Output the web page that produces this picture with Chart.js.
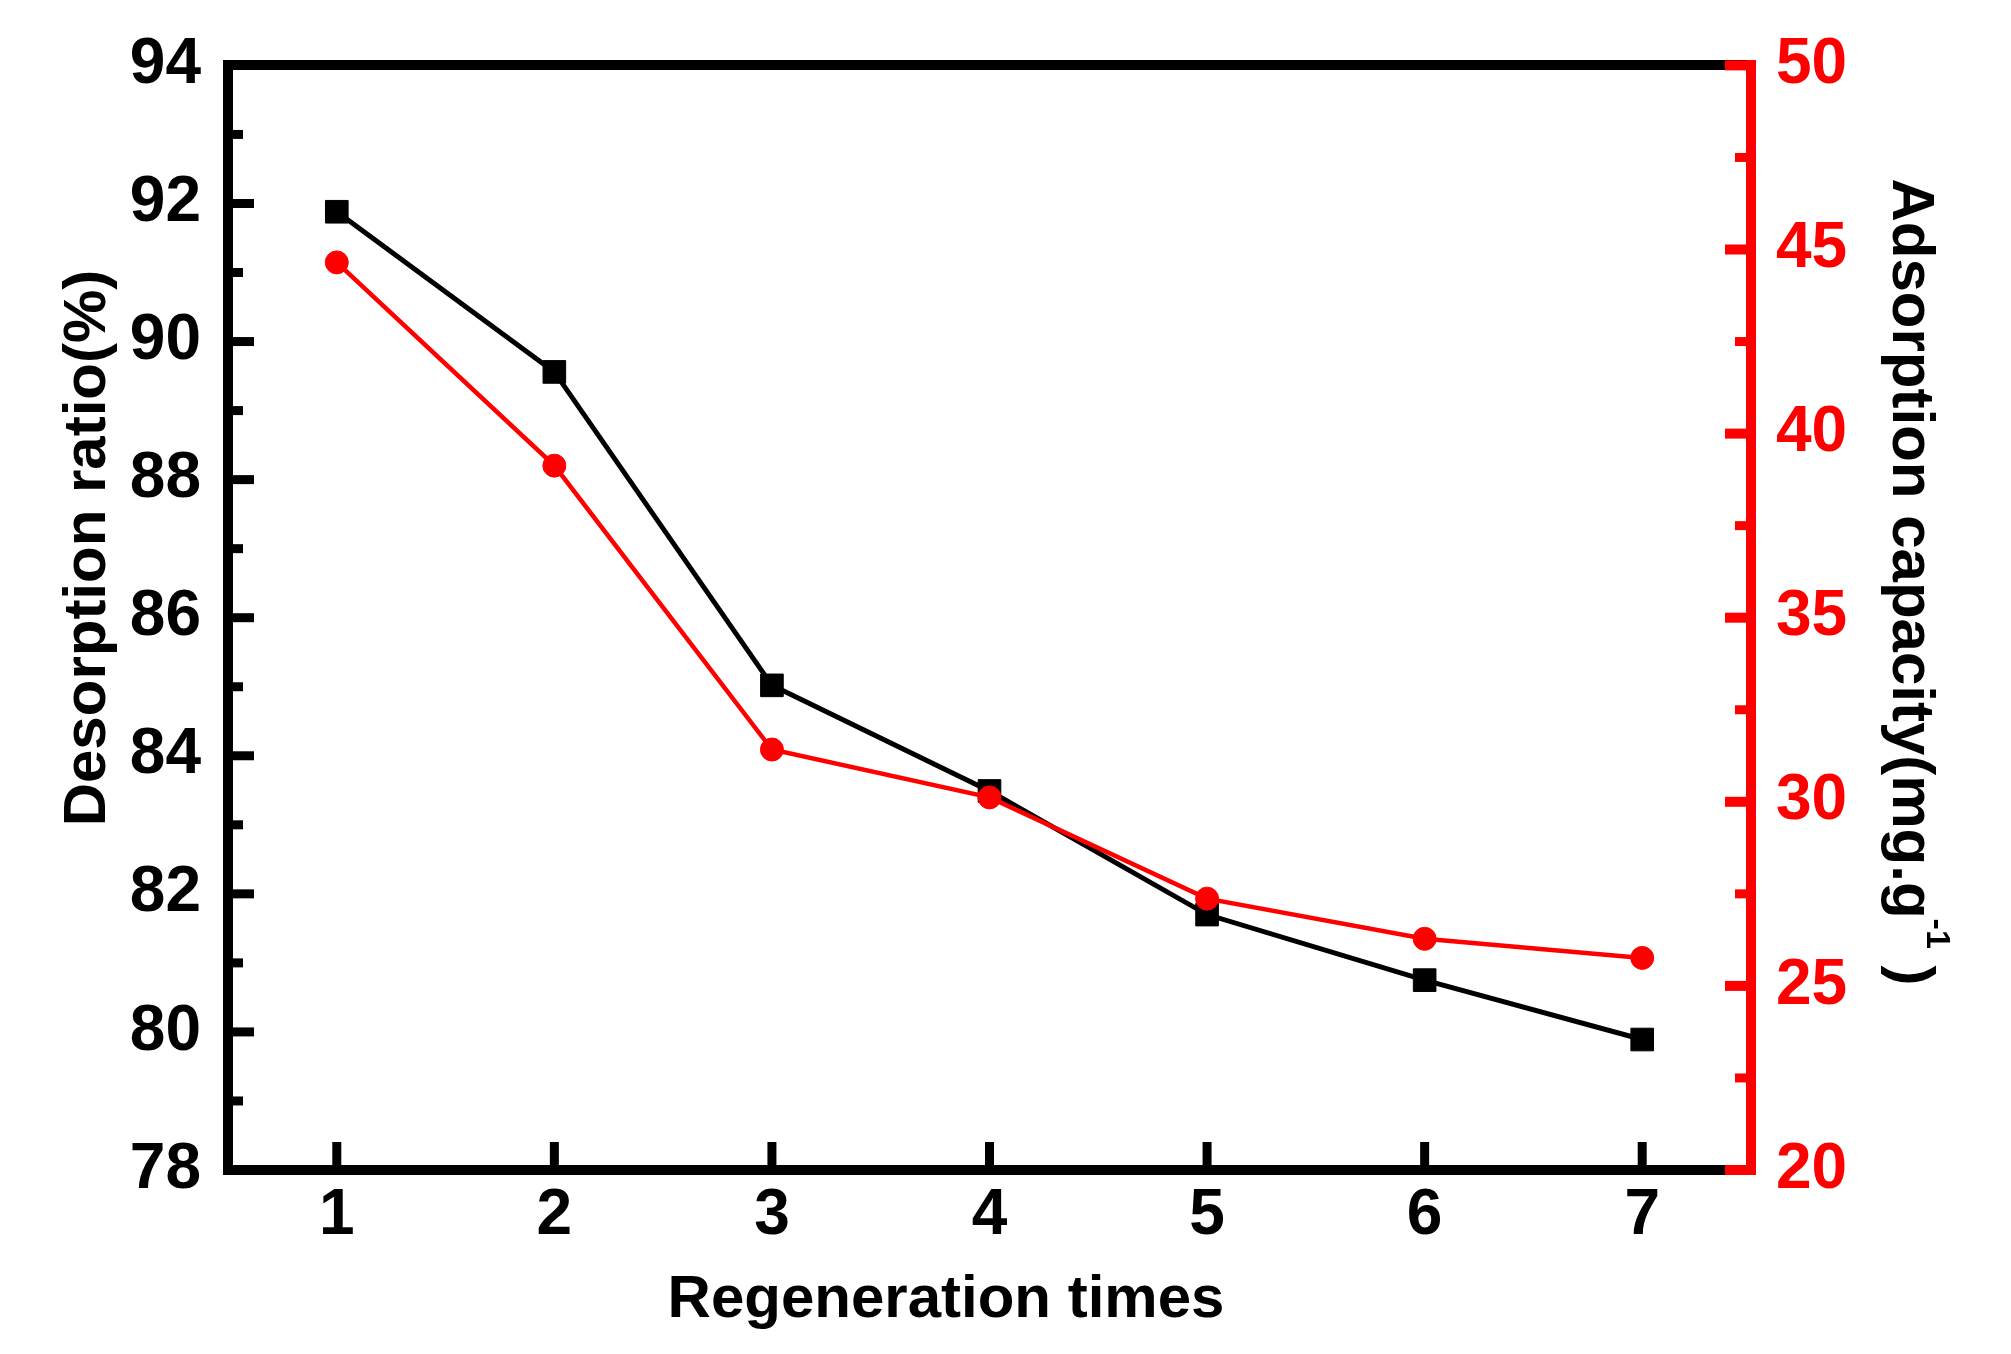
<!DOCTYPE html>
<html>
<head>
<meta charset="utf-8">
<script src="https://cdn.jsdelivr.net/npm/chart.js@4"></script>
<style>
  html, body { margin: 0; padding: 0; background: #fff; }
  #wrap { width: 2011px; height: 1354px; }
</style>
</head>
<body>
<div id="wrap"><canvas id="c" width="2011" height="1354"></canvas></div>
<script>
// ---- data ----
const regenerationTimes = [1, 2, 3, 4, 5, 6, 7];
const desorptionRatio = [91.88, 89.56, 85.02, 83.49, 81.70, 80.75, 79.89];
const adsorptionCapacity = [44.65, 39.13, 31.42, 30.12, 27.37, 26.28, 25.76];

const xTickValues = [1, 2, 3, 4, 5, 6, 7];
const leftTickValues = [78, 80, 82, 84, 86, 88, 90, 92, 94];
const leftMinorValues = [79, 81, 83, 85, 87, 89, 91, 93];
const rightTickValues = [20, 25, 30, 35, 40, 45, 50];
const rightMinorValues = [22.5, 27.5, 32.5, 37.5, 42.5, 47.5];

const xTitle = 'Regeneration times';
const leftTitle = 'Desorption ratio(%)';
const rightTitleMain = 'Adsorption capacity(mg.g';
const rightTitleSup = '-1';
const rightTitleEnd = ' )';

const FONT = "'Liberation Sans', Arial, Helvetica, sans-serif";
const RED = '#ff0000';
const BLACK = '#000000';

Chart.defaults.font.family = FONT;

const tickPlugin = {
  id: 'innerTicks',
  afterDraw(chart) {
    const ctx = chart.ctx;
    const x = chart.scales.x, y = chart.scales.y, y2 = chart.scales.y2;
    const a = chart.chartArea;
    const bw = 5; // half border width
    ctx.save();
    ctx.lineCap = 'butt';
    // left axis ticks
    ctx.strokeStyle = BLACK;
    ctx.lineWidth = 9;
    leftTickValues.forEach(v => {
      const p = y.getPixelForValue(v);
      ctx.beginPath(); ctx.moveTo(a.left, p); ctx.lineTo(a.left + bw + 21, p); ctx.stroke();
    });
    leftMinorValues.forEach(v => {
      const p = y.getPixelForValue(v);
      ctx.beginPath(); ctx.moveTo(a.left, p); ctx.lineTo(a.left + bw + 10, p); ctx.stroke();
    });
    // bottom axis ticks
    xTickValues.forEach(v => {
      const p = x.getPixelForValue(v);
      ctx.beginPath(); ctx.moveTo(p, a.bottom); ctx.lineTo(p, a.bottom - bw - 23); ctx.stroke();
    });
    // right axis ticks (red)
    ctx.strokeStyle = RED;
    ctx.lineWidth = 10;
    rightTickValues.forEach(v => {
      const p = y2.getPixelForValue(v);
      ctx.beginPath(); ctx.moveTo(a.right + bw, p); ctx.lineTo(a.right - bw - 21, p); ctx.stroke();
    });
    ctx.lineWidth = 9;
    rightMinorValues.forEach(v => {
      const p = y2.getPixelForValue(v);
      ctx.beginPath(); ctx.moveTo(a.right, p); ctx.lineTo(a.right - bw - 11, p); ctx.stroke();
    });
    // red right axis line on top
    ctx.lineWidth = 10;
    ctx.beginPath(); ctx.moveTo(a.right, a.top - bw); ctx.lineTo(a.right, a.bottom + bw); ctx.stroke();
    ctx.restore();
  }
};

const titlePlugin = {
  id: 'axisTitles',
  afterDraw(chart) {
    const ctx = chart.ctx;
    ctx.save();
    ctx.fillStyle = BLACK;
    ctx.textBaseline = 'alphabetic';
    ctx.font = 'bold 60px ' + FONT;
    // bottom title
    ctx.textAlign = 'center';
    ctx.fillText(xTitle, 946, 1317);
    // left title
    ctx.save();
    ctx.translate(105, 548);
    ctx.rotate(-Math.PI / 2);
    ctx.textAlign = 'center';
    ctx.fillText(leftTitle, 0, 0);
    ctx.restore();
    // right title with superscript
    ctx.save();
    ctx.translate(1893, 582);
    ctx.rotate(Math.PI / 2);
    ctx.textAlign = 'left';
    const mainFont = 'bold 60px ' + FONT;
    const supFont = 'bold 34px ' + FONT;
    ctx.font = mainFont;
    const w1 = ctx.measureText(rightTitleMain).width;
    const w3 = ctx.measureText(rightTitleEnd).width;
    ctx.font = supFont;
    const w2 = ctx.measureText(rightTitleSup).width;
    const total = w1 + w2 + w3;
    let cx = -total / 2;
    ctx.font = mainFont;
    ctx.fillText(rightTitleMain, cx, 0);
    cx += w1;
    ctx.font = supFont;
    ctx.fillText(rightTitleSup, cx, -34);
    cx += w2;
    ctx.font = mainFont;
    ctx.fillText(rightTitleEnd, cx, 0);
    ctx.restore();
    ctx.restore();
  }
};

const ratioPoints = regenerationTimes.map((t, i) => ({ x: t, y: desorptionRatio[i] }));
const capacityPoints = regenerationTimes.map((t, i) => ({ x: t, y: adsorptionCapacity[i] }));

new Chart(document.getElementById('c'), {
  type: 'line',
  data: {
    datasets: [
      {
        label: 'Desorption ratio',
        data: ratioPoints,
        yAxisID: 'y',
        xAxisID: 'x',
        borderColor: BLACK,
        backgroundColor: BLACK,
        borderWidth: 5,
        pointStyle: 'rect',
        pointRadius: 16,
        pointBorderWidth: 1,
        pointBackgroundColor: BLACK,
        pointBorderColor: BLACK,
        tension: 0,
        order: 1
      },
      {
        label: 'Adsorption capacity',
        data: capacityPoints,
        yAxisID: 'y2',
        xAxisID: 'x',
        borderColor: RED,
        backgroundColor: RED,
        borderWidth: 4.5,
        pointStyle: 'circle',
        pointRadius: 11.5,
        pointBorderWidth: 1,
        pointBackgroundColor: RED,
        pointBorderColor: RED,
        tension: 0,
        order: 0
      }
    ]
  },
  options: {
    responsive: false,
    animation: false,
    devicePixelRatio: 1,
    layout: { padding: 0 },
    plugins: { legend: { display: false }, tooltip: { enabled: false } },
    scales: {
      x: {
        type: 'linear',
        position: 'bottom',
        min: 0.5,
        max: 7.5,
        afterBuildTicks: s => { s.ticks = xTickValues.map(v => ({ value: v })); },
        afterFit: s => { s.height = 184; },
        ticks: { color: BLACK, font: { size: 64, weight: 'bold' }, padding: 8, maxRotation: 0 },
        grid: { drawOnChartArea: false, drawTicks: false, lineWidth: 10, color: BLACK },
        border: { display: true, width: 10, color: BLACK }
      },
      x2: {
        type: 'linear',
        position: 'top',
        min: 0.5,
        max: 7.5,
        afterFit: s => { s.height = 48; },
        ticks: { display: false },
        grid: { drawOnChartArea: false, drawTicks: false, lineWidth: 10, color: BLACK },
        border: { display: true, width: 10, color: BLACK }
      },
      y: {
        type: 'linear',
        position: 'left',
        min: 78,
        max: 94,
        afterBuildTicks: s => { s.ticks = leftTickValues.map(v => ({ value: v })); },
        afterFit: s => { s.width = 228; },
        ticks: { color: BLACK, font: { size: 64, weight: 'bold' }, padding: 27 },
        grid: { drawOnChartArea: false, drawTicks: false, lineWidth: 10, color: BLACK },
        border: { display: true, width: 10, color: BLACK }
      },
      y2: {
        type: 'linear',
        position: 'right',
        min: 20,
        max: 50,
        afterBuildTicks: s => { s.ticks = rightTickValues.map(v => ({ value: v })); },
        afterFit: s => { s.width = 260; },
        ticks: { color: RED, font: { size: 64, weight: 'bold' }, padding: 25 },
        grid: { drawOnChartArea: false, drawTicks: false, lineWidth: 10, color: RED },
        border: { display: true, width: 10, color: RED }
      }
    }
  },
  plugins: [tickPlugin, titlePlugin]
});
</script>
</body>
</html>
